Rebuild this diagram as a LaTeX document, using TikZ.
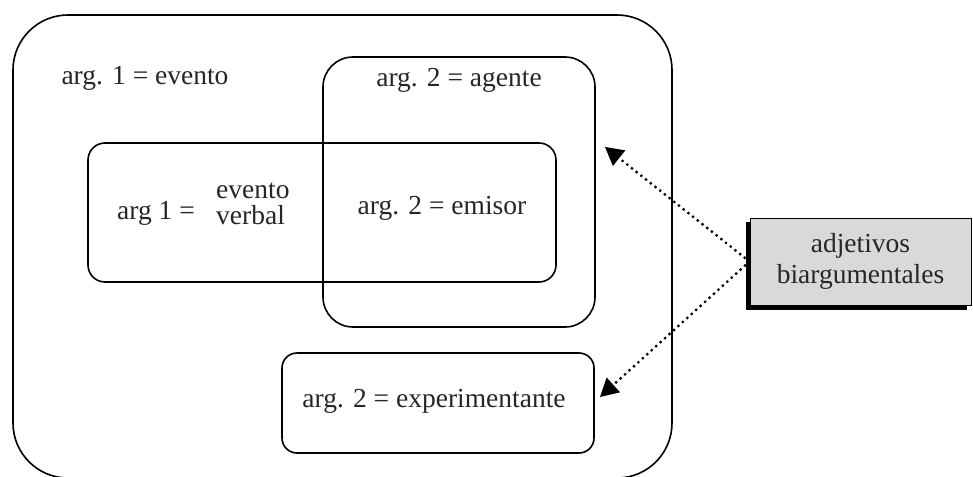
\documentclass[tikz,border=0pt]{standalone}
\usepackage{fontspec}
\setmainfont{Liberation Serif}
\usetikzlibrary{arrows.meta}
\begin{document}
\begin{tikzpicture}[x=1pt,y=-1pt,
  every node/.style={font=\fontsize{27.5}{28}\selectfont, text=black!85},
  frame/.style={draw=black, line width=1.6pt, inner sep=0pt, fill=none},
  label/.style={inner sep=0pt, anchor=center},
  link/.style={line width=3.2pt, line cap=round, dash pattern=on 0pt off 6pt,
    -{Triangle[length=18pt,width=20pt,line cap=butt,line width=0pt]}}
]
\useasboundingbox (0,0) rectangle (973,476);

% nested regions
\node[frame, rounded corners=55pt, minimum width=659pt, minimum height=463pt] (outer) at (342.5,246.5) {};
\node[frame, rounded corners=30pt, minimum width=272pt, minimum height=270pt] (agente) at (459,192) {};
\node[frame, rounded corners=17pt, minimum width=468pt, minimum height=139pt] (emisor) at (322,212.5) {};
\node[frame, rounded corners=15pt, minimum width=312pt, minimum height=100pt] (exper) at (438,403) {};

% labels inside the regions
\node[label] (t1) at (145,78) {arg. 1 = evento};
\node[label] (t2) at (459,80) {arg. 2 = agente};
\node[label] (t3) at (156,213) {arg 1 =};
\node[label, anchor=west, align=left, font=\fontsize{27.5}{26}\selectfont] (t4) at (216,204) {evento\\verbal};
\node[label] (t5) at (442,208) {arg. 2 = emisor};
\node[label] (t6) at (434,401) {arg. 2 = experimentante};

% shaded box with drop shadow
\fill[black] (746,222) rectangle (967,310);
\node[draw=black, line width=1pt, fill=black!15, minimum width=221pt, minimum height=87pt,
  inner sep=0pt, align=center, font=\fontsize{27.5}{31}\selectfont] (adj) at (860.5,261.5)
  {adjetivos\\biargumentales};

% arrow targets
\coordinate (tipA) at (605,147);
\coordinate (tipB) at (600,397);
\draw[link] (adj.west) -- (tipA);
\draw[link] (adj.west) -- (tipB);
\end{tikzpicture}
\end{document}
